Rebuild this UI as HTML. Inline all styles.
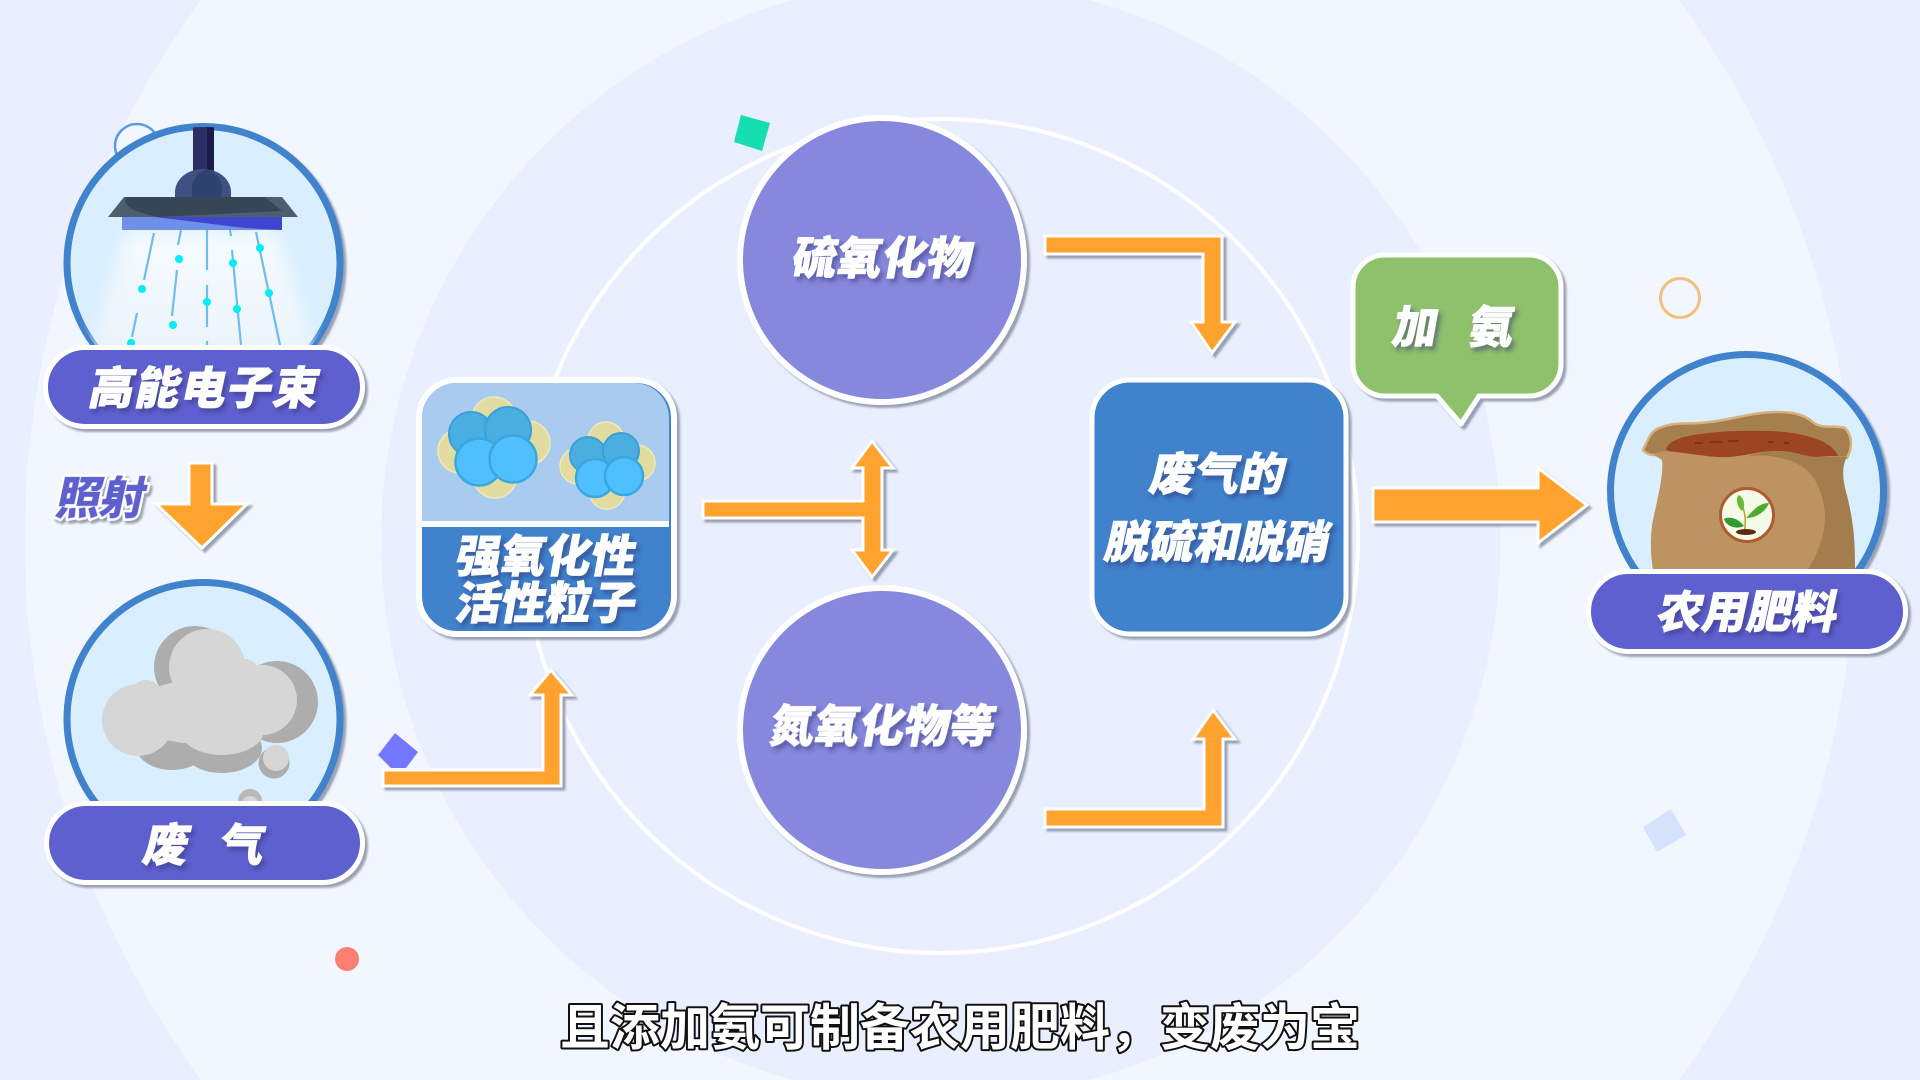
<!DOCTYPE html>
<html lang="zh">
<head>
<meta charset="utf-8">
<title>高能电子束废气处理</title>
<style>
html,body{margin:0;padding:0;width:1920px;height:1080px;overflow:hidden;background:#e9effe}
svg{display:block}
.l{font-family:"Liberation Sans","Noto Sans CJK SC",sans-serif;font-weight:900;font-size:45px;fill:#fff;stroke:#fff;stroke-width:.7px;text-anchor:middle}
.sub{font-family:"Noto Sans CJK SC","Liberation Sans",sans-serif;font-weight:700;font-size:50px;fill:#fff;stroke:#111;stroke-width:4px;paint-order:stroke;stroke-linejoin:round;text-anchor:middle}
.arrow{fill:#ffa32f;stroke:#fff;stroke-width:3;stroke-linejoin:miter}
</style>
</head>
<body>
<svg width="1920" height="1080" viewBox="0 0 1920 1080" xmlns="http://www.w3.org/2000/svg">
<defs>
<filter id="sh" x="-10%" y="-10%" width="125%" height="125%"><feDropShadow dx="3" dy="3" stdDeviation="1" flood-color="#7d8598" flood-opacity=".75"/></filter>
<filter id="ts" x="-10%" y="-20%" width="125%" height="150%"><feDropShadow dx="3" dy="4" stdDeviation="2" flood-color="#2a2f70" flood-opacity=".45"/></filter>
<filter id="soft" x="-30%" y="-30%" width="160%" height="160%"><feGaussianBlur stdDeviation="9"/></filter>
<linearGradient id="glow" x1="0" y1="0" x2="0" y2="1"><stop offset="0" stop-color="#fff" stop-opacity=".8"/><stop offset="1" stop-color="#eef4fa" stop-opacity=".75"/></linearGradient>
<clipPath id="c1"><circle cx="203.5" cy="263" r="136"/></clipPath>
<clipPath id="c2"><circle cx="203.5" cy="719" r="136"/></clipPath>
<clipPath id="c3"><circle cx="1747" cy="491" r="136"/></clipPath>
<clipPath id="cardTop"><path d="M422 521V418a35 35 0 0 1 35-35H634a35 35 0 0 1 35 35V521Z"/></clipPath>
</defs>

<!-- background -->
<rect width="1920" height="1080" fill="#e9effe"/>
<path d="M201 0A915 915 0 0 0 201 1080L1679 1080A915 915 0 0 0 1679 0Z" fill="#f2f6ff"/>
<path d="M793 0A560 560 0 0 0 793 1080L1089 1080A560 560 0 0 0 1089 0Z" fill="#e9effe"/>
<circle cx="941" cy="536" r="417" fill="none" stroke="#fff" stroke-width="4"/>

<!-- decor -->
<circle cx="137" cy="146" r="22" fill="none" stroke="#5b9be0" stroke-width="2.5"/>
<circle cx="1680" cy="298" r="19.5" fill="none" stroke="#f4bf7e" stroke-width="3"/>
<polygon points="741,115 770,123 762,151 734,142" fill="#15deb0"/>
<polygon points="395,733 418,752 406,768 391,768 378,755" fill="#7477ff"/>
<polygon points="1671,809 1686,835 1657,852 1643,827" fill="#d5e2fb"/>
<circle cx="347" cy="959" r="12" fill="#fb8072"/>

<!-- lamp circle -->
<circle cx="203.5" cy="263" r="136.5" fill="#d9efff" stroke="#3f82cc" stroke-width="7" filter="url(#sh)"/>
<g clip-path="url(#c1)">
<polygon points="128,232 276,232 322,370 84,370" fill="url(#glow)" filter="url(#soft)"/>
<g stroke="#6ebcf0" stroke-width="2.2" fill="none">
<path d="M154 233L144 280M137 313L132 337"/>
<path d="M181 230L178 245M177 270L172 316"/>
<path d="M207 230V270M207 285V345" stroke-dasharray="42 14"/>
<path d="M230 230L231 236M232 250L241 345"/>
<path d="M256 232L280 345"/>
</g>
<g fill="#00eef8">
<circle cx="142" cy="289" r="4"/><circle cx="179" cy="259" r="4"/><circle cx="131" cy="343" r="4"/><circle cx="173" cy="325" r="4"/><circle cx="207" cy="302" r="4"/><circle cx="233" cy="263" r="4"/><circle cx="237" cy="309" r="4"/><circle cx="260" cy="248" r="4"/><circle cx="269" cy="293" r="4"/>
</g>
<rect x="193" y="124" width="21" height="50" fill="#2c2f66"/>
<rect x="207" y="124" width="7" height="50" fill="#191b4a"/>
<path d="M175 198V192a28 23 0 0 1 56 0V198Z" fill="#3f5180"/>
<path d="M192 198V190a22 20 0 0 1 16-21a30 24 0 0 1 12 29Z" fill="#2e4270"/>
<polygon points="122,217 282,217 282,230 122,230" fill="#6f8fe8"/>
<polygon points="155,217 282,217 282,230 245,228" fill="#3f45cf"/>
<polygon points="124,197 282,197 298,217 108,217" fill="#4d5f6f"/>
<path d="M126 197H265L282 211L158 217C135 212 122 207 126 197Z" fill="#364657"/>
</g>
<rect x="45.5" y="347.5" width="317" height="79" rx="39.5" fill="#5e60cf" stroke="#fff" stroke-width="5" filter="url(#sh)"/>
<g filter="url(#ts)"><text class="l" transform="translate(202,404) skewX(-12)" style="letter-spacing:1px">高能电子束</text></g>

<!-- 照射 -->
<g><text transform="translate(98,514) skewX(-12)" class="l" style="font-size:45px;fill:#5e60cf;stroke:#fff;stroke-width:5px;paint-order:stroke;stroke-linejoin:round;letter-spacing:-1px" filter="url(#sh)">照射</text></g>
<polygon class="arrow" points="189,463 212,463 212,504 247,504 202,548 156,504 189,504" filter="url(#sh)"/>

<!-- smoke circle -->
<circle cx="203.5" cy="719" r="136.5" fill="#d9efff" stroke="#3f82cc" stroke-width="7" filter="url(#sh)"/>
<g clip-path="url(#c2)">
<circle cx="195" cy="667" r="41" fill="#adadad"/>
<circle cx="277" cy="702" r="41" fill="#adadad"/>
<ellipse cx="172" cy="746" rx="36" ry="24" fill="#adadad"/>
<ellipse cx="222" cy="748" rx="40" ry="25" fill="#adadad"/>
<circle cx="274" cy="763" r="15.5" fill="#adadad"/>
<circle cx="250" cy="801" r="12" fill="#b8b8b8"/>
<ellipse cx="207" cy="667" rx="38" ry="38" fill="#d6d6d6"/>
<circle cx="245" cy="672" r="13" fill="#d6d6d6"/>
<circle cx="146" cy="695" r="15" fill="#d6d6d6"/>
<circle cx="138" cy="720" r="36" fill="#d6d6d6"/>
<circle cx="262" cy="700" r="35" fill="#d6d6d6"/>
<ellipse cx="200" cy="712" rx="68" ry="32" fill="#d6d6d6"/>
<ellipse cx="222" cy="730" rx="42" ry="25" fill="#d6d6d6"/>
<circle cx="276" cy="758" r="13" fill="#d6d6d6"/>
<circle cx="250" cy="804" r="8" fill="#d6d6d6"/>
</g>
<rect x="46.5" y="803.5" width="316" height="79" rx="39.5" fill="#5e60cf" stroke="#fff" stroke-width="5" filter="url(#sh)"/>
<g filter="url(#ts)"><text class="l" transform="translate(202,861) skewX(-12)" style="letter-spacing:31px" dx="15">废气</text></g>

<!-- L arrow -->
<polygon class="arrow" points="383,770 543,770 543,695 530,695 551,670 572,695 561,695 561,786 383,786" filter="url(#sh)"/>

<!-- card -->
<rect x="419" y="380" width="255" height="254" rx="38" fill="#3f82cc" stroke="#fff" stroke-width="6" filter="url(#sh)"/>
<g clip-path="url(#cardTop)"><rect x="420" y="380" width="252" height="142" fill="#aacbf0"/></g>
<rect x="422" y="521" width="247" height="6" fill="#fff"/>
<g>
<g fill="#e3dca0" stroke="#efe9b8" stroke-width="1.5">
<circle cx="494" cy="419" r="22"/><circle cx="460" cy="451" r="22"/><circle cx="528" cy="443" r="22"/><circle cx="495" cy="476" r="22"/>
<circle cx="606" cy="440" r="18"/><circle cx="578" cy="466" r="18"/><circle cx="637" cy="463" r="18"/><circle cx="607" cy="491" r="18"/>
</g>
<g fill="#4aaee0" stroke="#3b9fd8" stroke-width="2">
<circle cx="471" cy="434" r="22"/><circle cx="508" cy="430" r="23"/>
<circle cx="588" cy="455" r="18"/><circle cx="621" cy="451" r="18"/>
</g>
<g fill="#4fbfff" stroke="#3aa8e0" stroke-width="2.5">
<circle cx="479" cy="462" r="23.5"/><circle cx="513" cy="459" r="23.5"/>
<circle cx="595" cy="478" r="19"/><circle cx="624" cy="476" r="19"/>
</g>
</g>
<g filter="url(#ts)">
<text class="l" transform="translate(544,572) skewX(-10)">强氧化性</text>
<text class="l" transform="translate(544,619) skewX(-10)">活性粒子</text>
</g>

<!-- T arrow -->
<polygon class="arrow" points="703,501 863,501 863,468 852,468 872,441 893,468 882,468 882,550 893,550 872,577 852,550 863,550 863,518 703,518" filter="url(#sh)"/>

<!-- purple circles -->
<circle cx="882" cy="260" r="142" fill="#8688dd" stroke="#fff" stroke-width="6" filter="url(#sh)"/>
<circle cx="882" cy="730" r="142" fill="#8688dd" stroke="#fff" stroke-width="6" filter="url(#sh)"/>
<g filter="url(#ts)">
<text class="l" transform="translate(880,274) skewX(-10)">硫氧化物</text>
<text class="l" transform="translate(880,742) skewX(-10)">氮氧化物等</text>
</g>

<!-- right upper/lower arrows -->
<polygon class="arrow" points="1045,236 1222,236 1222,322 1235,322 1212,353 1191,322 1203,322 1203,254 1045,254" filter="url(#sh)"/>
<polygon class="arrow" points="1045,809 1204,809 1204,739 1193,739 1213,710 1235,739 1223,739 1223,827 1045,827" filter="url(#sh)"/>

<!-- blue box -->
<rect x="1092" y="380" width="254" height="254" rx="38" fill="#3f82cc" stroke="#fff" stroke-width="5" filter="url(#sh)"/>
<g filter="url(#ts)">
<text class="l" transform="translate(1215,490) skewX(-12)">废气的</text>
<text class="l" transform="translate(1215,558) skewX(-12)">脱硫和脱硝</text>
</g>

<!-- green bubble -->
<path d="M1385 255H1529a32 32 0 0 1 32 32V364a32 32 0 0 1-32 32H1479L1461 424L1437 396H1385a32 32 0 0 1-32-32V287a32 32 0 0 1 32-32Z" fill="#8fc06c" stroke="#fff" stroke-width="5" stroke-linejoin="round" filter="url(#sh)"/>
<g filter="url(#ts)">
<text class="l" transform="translate(1413,343) skewX(-10)">加</text>
<text class="l" transform="translate(1489,343) skewX(-10)">氨</text>
</g>

<!-- right arrow -->
<polygon class="arrow" points="1373,488 1538,488 1538,468 1587,505 1538,543 1538,522 1373,522" filter="url(#sh)"/>

<!-- fertilizer circle -->
<circle cx="1747" cy="491" r="136.5" fill="#d9efff" stroke="#3f82cc" stroke-width="7" filter="url(#sh)"/>
<g clip-path="url(#c3)">
<path d="M1643 450C1648 440 1650 430 1662 427C1675 422 1690 424 1699 423C1725 422 1750 412 1777 412C1795 412 1805 415 1814 423C1822 429 1835 425 1845 428C1852 435 1853 447 1847 458L1654 455C1650 455 1646 454 1643 450Z" fill="#a67f4e" stroke="#d9b080" stroke-width="2.5"/>
<path d="M1666 450C1668 440 1685 436 1700 434C1730 430 1750 431 1770 431C1800 432 1832 440 1838 456L1700 462Z" fill="#9c4522"/>
<g fill="#7a3418"><rect x="1695" y="442" width="8" height="2"/><rect x="1710" y="441" width="12" height="2"/><rect x="1728" y="440" width="10" height="2"/><rect x="1768" y="441" width="6" height="2"/><rect x="1784" y="442" width="5" height="2"/></g>
<path d="M1654 455C1658 451 1662 452 1666 451C1690 453 1710 458 1728 457C1745 456 1760 451 1777 451C1795 451 1805 457 1817 457L1838 459L1847 457C1842 465 1842 478 1846 492C1852 515 1857 540 1854 590H1658C1650 565 1650 545 1652 525C1657 500 1664 475 1662 460Z" fill="#bd9361"/>
<path d="M1745 457C1760 454 1775 456 1788 460C1808 466 1821 480 1825 513C1826 535 1818 557 1795 590H1854C1857 540 1852 515 1846 492C1842 478 1842 465 1847 457L1817 457C1805 457 1795 451 1777 451C1765 451 1755 454 1745 457Z" fill="#a47d4e"/>
<circle cx="1747" cy="515" r="26.5" fill="#f6fbe8" stroke="#b05a32" stroke-width="3"/>
<path d="M1744 534C1746 522 1746 512 1740 500" stroke="#c49a3e" stroke-width="1.5" fill="none"/>
<path d="M1746 518C1752 512 1758 503 1769 503C1766 511 1757 518 1746 518Z" fill="#4dac2e"/>
<path d="M1742 511C1737 507 1735 498 1739 495C1744 498 1746 506 1742 511Z" fill="#6cb83c"/>
<path d="M1744 526C1738 518 1728 516 1724 519C1726 526 1736 530 1744 526Z" fill="#2e9c2e"/>
<ellipse cx="1746" cy="532" rx="10" ry="3" fill="#5a2d12"/>
</g>
<rect x="1588.5" y="571.5" width="317" height="80" rx="40" fill="#5e60cf" stroke="#fff" stroke-width="5" filter="url(#sh)"/>
<g filter="url(#ts)"><text class="l" transform="translate(1745,628) skewX(-12)">农用肥料</text></g>

<!-- subtitle -->
<text class="sub" x="960" y="1045">且添加氨可制备农用肥料&#xFF0C;变废为宝</text>
</svg>
</body>
</html>
